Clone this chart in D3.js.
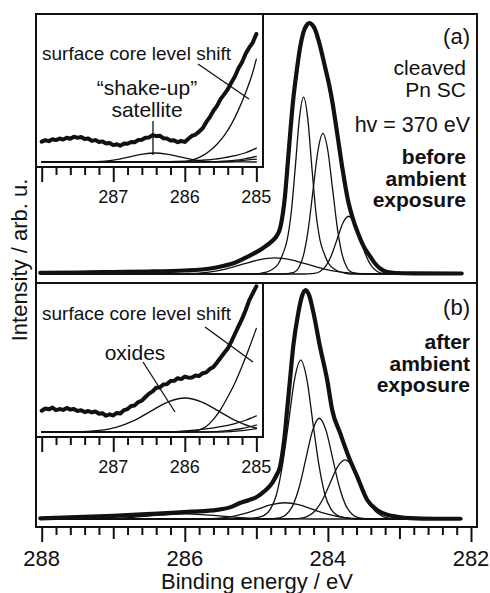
<!DOCTYPE html>
<html><head><meta charset="utf-8">
<script src="https://cdn.jsdelivr.net/npm/d3@7"></script>
<style>body{margin:0;background:#fff}svg{display:block}</style>
</head><body>
<svg id="c" width="490" height="593"></svg>
<script>
// ---------- DATA (binding energy eV, intensity arb. u.) ----------
const mainTickLabels = [288, 286, 284, 282];
const insetTickLabels = [287, 286, 285];

// panel (a) main spectrum (thick) and fit components
const topTotal = [[288.02,0.5],[287.5,0.6],[287.0,0.8],[286.5,1.0],[286.0,1.4],[285.8,1.7],[285.6,2.4],[285.45,3.3],[285.3,4.5],[285.15,6.5],[285.0,8.7],[284.9,10.5],[284.8,12.6],[284.72,15],[284.67,18],[284.63,24],[284.6,31],[284.57,41],[284.53,55],[284.49,68],[284.44,80],[284.39,90],[284.34,96.5],[284.3,99],[284.26,100],[284.22,99.3],[284.18,97.5],[284.12,92],[284.04,82.5],[283.98,75],[283.94,69],[283.87,56],[283.8,42.6],[283.72,29.5],[283.65,22],[283.58,16.3],[283.5,11],[283.42,7.4],[283.35,4.5],[283.27,2.2],[283.17,0.8],[283.05,0.4],[282.8,0.25],[282.13,0.2]];
const topC1 = [[288.02,0],[285.0,0],[284.88,0.6],[284.78,1.8],[284.69,4.2],[284.63,8.0],[284.57,13.5],[284.5125,24.5],[284.455,42.8],[284.3975,62.2],[284.34,70.5],[284.2825,62.2],[284.225,42.8],[284.1675,24.5],[284.11,13.5],[284.05,8.0],[283.99,4.2],[283.90,1.8],[283.80,0.6],[283.68,0],[282.13,0]];
const topC2 = [[288.02,0],[284.61,0],[284.475,0.6],[284.4075,2.5],[284.34,7.6],[284.2725,18.2],[284.205,34.0],[284.1375,49.4],[284.07,56],[284.0025,49.4],[283.935,34.0],[283.8675,18.2],[283.80,7.6],[283.7325,2.5],[283.665,0.6],[283.53,0],[282.13,0]];
const topC3 = [[288.02,0],[284.35,0],[284.19,0.25],[284.11,1.0],[284.03,3.1],[283.95,7.5],[283.87,13.95],[283.79,20.3],[283.71,23],[283.63,20.3],[283.55,13.95],[283.47,7.5],[283.39,3.1],[283.31,1.0],[283.23,0.25],[283.07,0],[282.13,0]];
const topBroad = [[288.02,0],[286.54,0],[286.09,0.07],[285.865,0.28],[285.64,0.87],[285.415,2.08],[285.19,3.9],[284.965,5.65],[284.74,6.4],[284.515,5.65],[284.29,3.9],[284.065,2.08],[283.84,0.87],[283.615,0.28],[283.39,0.07],[282.94,0],[282.13,0]];

// panel (b)
const botTotal = [[288.02,0.3],[287.5,0.8],[287.0,1.4],[286.6,2.0],[286.25,2.6],[285.9,3.2],[285.55,4.0],[285.35,5.3],[285.23,7.0],[285.1,8.3],[284.99,9.7],[284.88,12.3],[284.78,15.7],[284.72,19],[284.67,22.7],[284.63,30],[284.6,37.6],[284.57,47.6],[284.53,60.7],[284.485,75.2],[284.415,89.8],[284.36,97.5],[284.31,100],[284.26,97.5],[284.2,89.8],[284.11,75.2],[284.01,60.7],[283.94,47.6],[283.83,37.6],[283.71,27.2],[283.59,18.5],[283.45,8.3],[283.31,3.9],[283.15,1.6],[283.03,1.0],[282.85,0.4],[282.5,0.1],[282.15,0.1]];
const botC1 = [[288.02,0],[285.15,0],[285.0,0.6],[284.89,1.6],[284.805,4.2],[284.72,10.5],[284.635,23.5],[284.55,42.1],[284.465,61.2],[284.38,69.4],[284.295,61.2],[284.21,42.1],[284.125,23.5],[284.04,10.5],[283.955,4.2],[283.87,1.6],[283.76,0.6],[283.61,0],[282.13,0]];
const botC2 = [[288.02,0],[284.86,0],[284.675,0.49],[284.5825,1.93],[284.49,5.95],[284.3975,14.3],[284.305,26.7],[284.2125,38.8],[284.12,44],[284.0275,38.8],[283.935,26.7],[283.8425,14.3],[283.75,5.95],[283.6575,1.93],[283.565,0.49],[283.38,0],[282.13,0]];
const botC3 = [[288.02,0],[284.60,0],[284.39,0.29],[284.285,1.13],[284.18,3.49],[284.075,8.38],[283.97,15.65],[283.865,22.8],[283.76,25.8],[283.655,22.8],[283.55,15.65],[283.445,8.38],[283.34,3.49],[283.235,1.13],[283.13,0.29],[282.92,0],[282.13,0]];
const botBroad = [[288.02,0],[286.12,0],[285.74,0.08],[285.55,0.31],[285.36,0.96],[285.17,2.31],[284.98,4.31],[284.79,6.27],[284.6,7.1],[284.41,6.27],[284.22,4.31],[284.03,2.31],[283.84,0.96],[283.65,0.31],[283.46,0.08],[283.08,0],[282.13,0]];
const botOxide = [[288.02,0],[287.44,0.05],[287.2,0.1],[286.96,0.3],[286.72,0.71],[286.48,1.33],[286.24,1.94],[286.0,2.2],[285.76,1.94],[285.52,1.33],[285.28,0.71],[285.04,0.3],[284.8,0.1],[284.56,0.05],[284.2,0],[282.13,0]];

// inset (a): measured (noisy) data and components, zoomed
const insATotal = [[288.00,15.4],[287.95,16.5],[287.90,15.8],[287.85,17.2],[287.80,16.6],[287.75,17.8],[287.70,17.0],[287.65,18.4],[287.60,17.6],[287.55,19.2],[287.50,18.3],[287.45,18.9],[287.40,17.4],[287.35,17.8],[287.30,16.0],[287.25,16.6],[287.20,15.1],[287.15,15.6],[287.10,14.0],[287.05,14.4],[287.00,12.8],[286.95,13.4],[286.90,12.4],[286.85,14.0],[286.80,13.8],[286.75,15.2],[286.70,15.0],[286.65,16.6],[286.60,16.8],[286.55,18.4],[286.50,18.6],[286.45,20.4],[286.40,19.6],[286.35,19.9],[286.30,18.0],[286.25,17.8],[286.20,16.2],[286.15,16.4],[286.10,15.0],[286.05,15.9],[286.00,15.2],[285.95,17.6],[285.90,19.8],[285.85,20.8],[285.80,23.0],[285.75,25.6],[285.70,30.2],[285.65,34.0],[285.60,38.8],[285.55,42.5],[285.50,47.6],[285.45,51.2],[285.40,55.0],[285.35,60.1],[285.30,64.8],[285.25,71.0],[285.20,75.6],[285.15,82.0],[285.10,86.6],[285.05,90.5],[285.00,97.0]];
const insASatellite = [[288.0,0],[287.41,0.1],[287.245,0.3],[287.08,0.92],[286.915,2.2],[286.75,4.1],[286.585,6.0],[286.42,6.8],[286.255,6.0],[286.09,4.1],[285.925,2.2],[285.76,0.92],[285.595,0.3],[285.43,0.1],[285.0,0]];
const insASurf = [[288.0,0],[286.05,0],[285.95,0.8],[285.85,2.3],[285.75,4.8],[285.65,8.5],[285.55,13.5],[285.45,20],[285.35,28.5],[285.25,39.5],[285.15,52.5],[285.05,68],[285.0,78]];
const insATailA = [[288.0,0],[286.4,0],[286.0,0.6],[285.7,1.6],[285.5,2.8],[285.3,4.8],[285.15,7.0],[285.0,10.5]];
const insATailB = [[288.0,0],[285.7,0],[285.4,0.8],[285.2,2.0],[285.0,4.2]];
const insATailC = [[288.0,0],[285.5,0],[285.25,0.8],[285.0,2.2]];

// inset (b)
const insBTotal = [[288.00,15.2],[287.95,16.8],[287.90,16.2],[287.85,17.4],[287.80,15.6],[287.75,16.4],[287.70,15.8],[287.65,17.2],[287.60,16.0],[287.55,16.4],[287.50,15.0],[287.45,15.6],[287.40,14.2],[287.35,15.0],[287.30,14.0],[287.25,14.6],[287.20,13.0],[287.15,13.4],[287.10,11.6],[287.05,12.6],[287.00,11.8],[286.95,13.6],[286.90,13.2],[286.85,15.6],[286.80,16.4],[286.75,18.6],[286.70,19.0],[286.65,21.4],[286.60,22.4],[286.55,25.0],[286.50,27.4],[286.45,29.0],[286.40,31.6],[286.35,31.8],[286.30,34.0],[286.25,34.2],[286.20,36.4],[286.15,36.6],[286.10,38.4],[286.05,37.8],[286.00,39.6],[285.95,38.8],[285.90,39.0],[285.85,40.4],[285.80,40.0],[285.75,42.0],[285.70,42.6],[285.65,45.0],[285.60,46.4],[285.55,49.6],[285.50,53.0],[285.45,56.4],[285.40,59.6],[285.35,64.6],[285.30,70.0],[285.25,75.4],[285.20,80.8],[285.15,87.0],[285.10,94.0],[285.05,99.0],[285.00,104.0]];
const insBOxide = [[288.0,0],[287.44,0.3],[287.2,1.1],[286.96,3.3],[286.72,7.9],[286.48,14.7],[286.24,21.4],[286.0,24.3],[285.76,21.4],[285.52,14.7],[285.28,7.9],[285.04,3.3],[285.0,2.9]];
const insBSurf = [[288.0,0],[286.0,0],[285.9,0.5],[285.8,1.5],[285.7,4],[285.6,9],[285.5,16],[285.4,25],[285.3,35],[285.2,47],[285.1,60],[285.0,74]];
const insBTailA = [[288.0,0],[286.3,0],[286.0,0.8],[285.7,2.2],[285.5,3.8],[285.3,6],[285.15,8.4],[285.0,11.5]];
const insBTailB = [[288.0,0],[285.7,0],[285.4,1],[285.2,2.5],[285.0,5]];
const insBTailC = [[288.0,0],[285.5,0],[285.2,1],[285.0,2.5]];

// ---------- DRAWING ----------
const FONT = "'Liberation Sans', Arial, Helvetica, sans-serif";
const INK = "#111";
const svg = d3.select("#c").style("font-family", FONT);

const x = d3.scaleLinear().domain([288, 282]).range([41.7, 471]);
const yTop = d3.scaleLinear().domain([0, 100]).range([274, 23]);
const yBot = d3.scaleLinear().domain([0, 100]).range([519, 290]);
const yInsA = d3.scaleLinear().domain([0, 100]).range([162, 30]);
const yInsB = d3.scaleLinear().domain([0, 100]).range([432, 292]);

const frame = {l: 36, r: 477, t: 14, b: 527, mid: 283};
const inset = {r: 263, aB: 167, bB: 437};

const defs = svg.append("defs");
function clip(id, x0, y0, w, h) {
  defs.append("clipPath").attr("id", id).append("rect").attr("x", x0).attr("y", y0).attr("width", w).attr("height", h);
}
clip("cTop", frame.l, frame.t, frame.r - frame.l, frame.mid - frame.t);
clip("cBot", frame.l, frame.mid, frame.r - frame.l, frame.b - frame.mid);
clip("cInsA", frame.l, frame.t, inset.r - frame.l, inset.aB - frame.t);
clip("cInsB", frame.l, frame.mid, inset.r - frame.l, inset.bB - frame.mid);

function drawLine(g, data, ys, w, curve) {
  g.append("path").datum(data)
    .attr("fill", "none").attr("stroke", INK).attr("stroke-width", w)
    .attr("stroke-linejoin", "round").attr("stroke-linecap", "round")
    .attr("d", d3.line().x(d => x(d[0])).y(d => ys(d[1])).curve(curve || d3.curveMonotoneX));
}

// main panels
const gTop = svg.append("g").attr("clip-path", "url(#cTop)");
[topBroad, topC1, topC2, topC3].forEach(d => drawLine(gTop, d, yTop, 1.3));
drawLine(gTop, topTotal, yTop, 4.2);

const gBot = svg.append("g").attr("clip-path", "url(#cBot)");
[botOxide, botBroad, botC1, botC2, botC3].forEach(d => drawLine(gBot, d, yBot, 1.3));
drawLine(gBot, botTotal, yBot, 4.2);

// insets background
svg.append("rect").attr("x", frame.l).attr("y", frame.t).attr("width", inset.r - frame.l).attr("height", inset.aB - frame.t).attr("fill", "#fff");
svg.append("rect").attr("x", frame.l).attr("y", frame.mid).attr("width", inset.r - frame.l).attr("height", inset.bB - frame.mid).attr("fill", "#fff");

const gIA = svg.append("g").attr("clip-path", "url(#cInsA)");
[insATailC, insATailB, insATailA, insASatellite, insASurf].forEach(d => drawLine(gIA, d, yInsA, 1.3));
drawLine(gIA, insATotal, yInsA, 4, d3.curveLinear);

const gIB = svg.append("g").attr("clip-path", "url(#cInsB)");
[insBTailC, insBTailB, insBTailA, insBOxide, insBSurf].forEach(d => drawLine(gIB, d, yInsB, 1.3));
drawLine(gIB, insBTotal, yInsB, 4, d3.curveLinear);

// frames
const fr = svg.append("g").attr("fill", "none").attr("stroke", INK).attr("stroke-width", 2);
fr.append("rect").attr("x", frame.l).attr("y", frame.t).attr("width", frame.r - frame.l).attr("height", frame.b - frame.t);
fr.append("line").attr("x1", frame.l).attr("x2", frame.r).attr("y1", frame.mid).attr("y2", frame.mid);
fr.append("rect").attr("x", frame.l).attr("y", frame.t).attr("width", inset.r - frame.l).attr("height", inset.aB - frame.t);
fr.append("rect").attr("x", frame.l).attr("y", frame.mid).attr("width", inset.r - frame.l).attr("height", inset.bB - frame.mid);

// ticks (library axes)
const isInt = v => Math.abs(v - Math.round(v)) < 1e-6;
const allMain = d3.range(0, 31).map(i => 282 + i * 0.2);
const evenT = allMain.filter(v => isInt(v) && Math.round(v) % 2 === 0);
const oddT = allMain.filter(v => isInt(v) && Math.round(v) % 2 !== 0);
const minorT = allMain.filter(v => !isInt(v));
function ticks(y0, vals, size) {
  const g = svg.append("g").attr("transform", `translate(0,${y0})`)
    .call(d3.axisBottom(x).tickValues(vals).tickSize(size).tickSizeOuter(0).tickFormat(""));
  g.select(".domain").remove();
  g.selectAll(".tick line").attr("stroke", INK).attr("stroke-width", 2);
}
ticks(frame.b, evenT, 15);
ticks(frame.b, oddT, 12);
ticks(frame.b, minorT, 8);
const insAll = d3.range(0, 16).map(i => 285 + i * 0.2);
const insMajor = insAll.filter(isInt);
const insMinor = insAll.filter(v => !isInt(v));
[inset.aB, inset.bB].forEach(y0 => { ticks(y0, insMajor, 15); ticks(y0, insMinor, 8); });

// tick labels
svg.append("g").selectAll("text").data(mainTickLabels).join("text")
  .attr("x", d => x(d)).attr("y", 566).attr("text-anchor", "middle")
  .attr("font-size", 22).attr("fill", INK).text(d => d);
[203, 473].forEach(yy => {
  svg.append("g").selectAll("text").data(insetTickLabels).join("text")
    .attr("x", d => x(d)).attr("y", yy).attr("text-anchor", "middle")
    .attr("font-size", 18).attr("fill", INK).text(d => d);
});

// axis titles
svg.append("text").attr("x", 257).attr("y", 589).attr("text-anchor", "middle")
  .attr("font-size", 22).attr("fill", INK).text("Binding energy / eV");
svg.append("text").attr("transform", "translate(27,260) rotate(-90)").attr("text-anchor", "middle")
  .attr("font-size", 22).attr("fill", INK).text("Intensity / arb. u.");

// annotations
function txt(s, x0, y0, size, anchor, weight) {
  svg.append("text").attr("x", x0).attr("y", y0).attr("font-size", size)
    .attr("text-anchor", anchor || "start").attr("font-weight", weight || "normal")
    .attr("fill", INK).text(s);
}
txt("(a)", 470, 44, 22, "end");
txt("cleaved", 466, 75, 21, "end");
txt("Pn SC", 466, 97, 21, "end");
txt("hv = 370 eV", 470, 132, 21.5, "end");
txt("before", 466, 164, 21, "end", "bold");
txt("ambient", 466, 186, 21, "end", "bold");
txt("exposure", 466, 207, 21, "end", "bold");
txt("(b)", 470, 315, 22, "end");
txt("after", 470, 349, 21, "end", "bold");
txt("ambient", 470, 371, 21, "end", "bold");
txt("exposure", 470, 392, 21, "end", "bold");

txt("surface core level shift", 42, 60, 19);
txt("\u201Cshake-up\u201D", 147, 95, 21, "middle");
txt("satellite", 147, 117, 21, "middle");
txt("surface core level shift", 42, 320, 19);
txt("oxides", 135, 360, 21, "middle");

const ptr = svg.append("g").attr("stroke", INK).attr("stroke-width", 1.3);
[[198,64,249,99],[153,121,153,155],[205,327,253,362],[143,362,175,412]].forEach(p =>
  ptr.append("line").attr("x1", p[0]).attr("y1", p[1]).attr("x2", p[2]).attr("y2", p[3]));
</script>
</body></html>
